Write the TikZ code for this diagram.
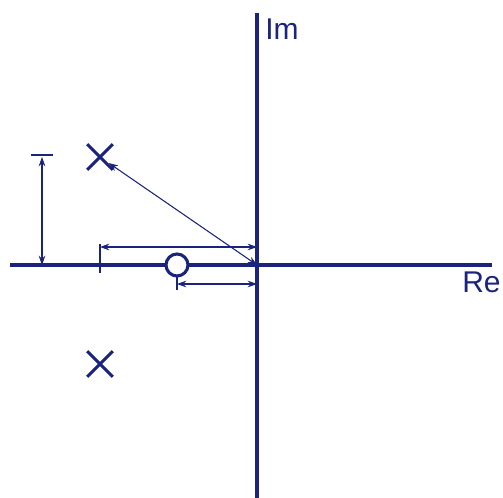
\documentclass[tikz,border=0pt]{standalone}
\usepackage{fontspec}
\setmainfont{Liberation Sans}
\usetikzlibrary{arrows.meta,shapes.misc}
\definecolor{navyblue}{RGB}{26,35,126}

\begin{document}
\begin{tikzpicture}[x=0.75pt,y=-0.75pt,>={Stealth[length=7pt,width=5pt]},
    axis/.style={navyblue,line width=2.4pt},
    dim/.style={navyblue,line width=0.8pt},
    pole/.style={cross out,draw=navyblue,line width=2.3pt,minimum size=17pt,inner sep=0pt},
    zero/.style={circle,draw=navyblue,line width=2.3pt,fill=white,minimum size=16.5pt,inner sep=0pt},
    lbl/.style={navyblue,font=\fontsize{22.5}{26}\selectfont,inner sep=0pt}]
  \useasboundingbox (0,0) rectangle (503,498);
  \coordinate (O) at (257,265);
  \draw[axis] (10,265) -- (492,265);
  \draw[axis] (257,13) -- (257,498);
  \node[lbl,anchor=base west] (im) at (265,40) {Im};
  \node[lbl,anchor=base west] (re) at (462,293) {Re};
  \node[pole] (p1) at (100,157) {};
  \node[pole] (p2) at (100,364) {};
  % distances
  \coordinate (t1) at (31,155);
  \coordinate (t2) at (53,155);
  \draw[dim] (t1) -- (t2);
  \draw[dim,<->] (42,157) -- (42,265);
  \draw[dim] (100,244) -- (100,273);
  \draw[dim,<->] (100,247) coordinate (a1) -- (257,247) coordinate (a2);
  \draw[dim] (177,273) -- (177,290);
  \draw[dim,<->] (177,284) coordinate (b1) -- (257,284) coordinate (b2);
  \draw[dim,<->,shorten <=8pt] (p1.center) -- (O);
  \node[zero] (z) at (177,265) {};
\end{tikzpicture}
\end{document}
